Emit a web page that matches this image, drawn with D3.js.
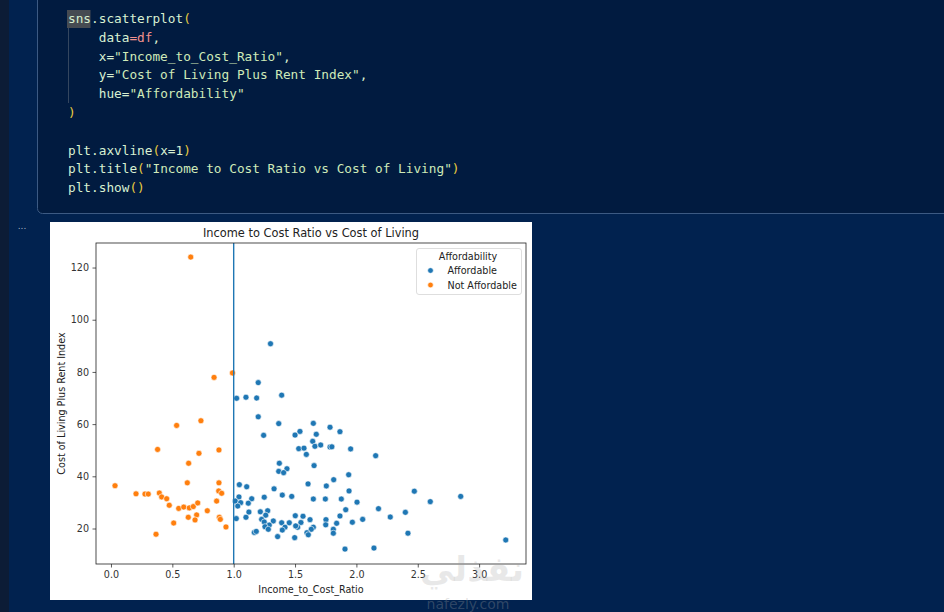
<!DOCTYPE html>
<html>
<head>
<meta charset="utf-8">
<script src="https://cdn.jsdelivr.net/npm/d3@7"></script>
<style>
  body { margin: 0; background: #01224f; overflow: hidden; }
  text { white-space: pre; }
</style>
</head>
<body>
<svg id="page" width="944" height="612"></svg>
<script>
// values
const affordableX = [1.30, 1.20, 1.024, 1.10, 1.187, 1.391, 1.20, 1.367, 1.649, 1.244,
  1.50, 1.54, 1.673, 1.785, 1.866, 1.644, 1.53, 1.573, 1.592, 1.662,
  1.709, 1.785, 1.80, 1.953, 2.157, 1.372, 1.434, 1.367, 1.407, 1.655,
  1.937, 1.815, 1.755, 1.606, 1.046, 1.106, 1.329, 1.940, 1.396, 1.473,
  1.649, 1.747, 1.877, 2.005, 2.18, 1.043, 1.013, 1.057, 1.033, 1.147,
  1.119, 1.249, 1.124, 1.217, 1.277, 1.261, 1.021, 1.100, 1.228, 1.249,
  1.323, 1.290, 1.255, 1.282, 1.168, 1.184, 1.358, 1.391, 1.453, 1.418,
  1.396, 1.502, 1.565, 1.548, 1.521, 1.505, 1.497, 1.622, 1.649, 1.632,
  1.597, 1.608, 1.752, 1.75, 1.812, 1.812, 1.839, 1.866, 1.913, 1.967,
  2.051, 1.907, 2.143, 2.276, 2.399, 2.42, 2.472, 2.602, 2.850, 3.217]
const affordableY = [90.8, 75.9, 69.9, 70.3, 70.0, 71.1, 62.8, 60.2, 60.3, 55.7,
  55.8, 57.2, 56.1, 58.8, 57.1, 53.4, 50.6, 50.8, 48.4, 51.5,
  52.0, 51.2, 51.3, 50.5, 47.9, 45.0, 42.9, 41.9, 41.4, 44.1,
  40.6, 38.7, 36.3, 37.1, 36.8, 36.0, 35.2, 34.4, 32.8, 32.3,
  31.3, 31.3, 31.3, 30.1, 27.6, 32.1, 30.5, 29.9, 28.6, 31.4,
  29.7, 32.0, 26.3, 26.4, 26.8, 25.1, 23.8, 24.3, 23.5, 22.5,
  22.9, 21.3, 20.7, 19.7, 18.5, 18.9, 16.9, 22.2, 22.2, 20.5,
  19.4, 24.9, 24.7, 22.3, 20.5, 21.0, 16.5, 23.4, 20.5, 19.7,
  18.4, 17.6, 23.4, 21.4, 19.7, 18.2, 22.0, 24.8, 27.2, 22.4,
  23.5, 12.1, 12.5, 24.4, 26.2, 18.2, 34.3, 30.3, 32.3, 15.6]
const notAffordableX = [0.65, 0.84, 0.99, 0.535, 0.733, 0.38, 0.717, 0.88, 0.633, 0.622,
  0.88, 0.033, 0.204, 0.277, 0.304, 0.394, 0.413, 0.454, 0.878, 0.902,
  0.861, 0.475, 0.552, 0.593, 0.638, 0.671, 0.707, 0.785, 0.630, 0.698,
  0.685, 0.883, 0.891, 0.511, 0.937, 0.367]
const notAffordableY = [124.0, 77.9, 79.6, 59.5, 61.3, 50.3, 48.8, 50.1, 45.0, 37.5,
  37.5, 36.4, 33.3, 33.2, 33.2, 33.6, 32.1, 31.4, 34.4, 33.5,
  30.5, 28.9, 27.7, 28.2, 27.9, 28.4, 29.8, 26.8, 24.3, 25.2,
  23.3, 24.3, 23.5, 22.1, 20.6, 17.8]
const hueLevels = ["Affordable", "Not Affordable"]
const hueColors = ["#1f77b4", "#ff7f0e"]
const cutoff = 1
const xTicks = [0, 0.5, 1, 1.5, 2, 2.5, 3]
const yTicks = [20, 40, 60, 80, 100, 120]

const svg = d3.select('#page')

// ---- notebook background ----
svg.append('rect').attr('width', 944).attr('height', 612).attr('fill', '#01224f')
svg.append('rect').attr('width', 9).attr('height', 612).attr('fill', '#0c1c36')
svg.append('rect')
    .attr('x', 37.5).attr('y', -10).attr('width', 930).attr('height', 223.5)
    .attr('rx', 5)
    .attr('fill', '#011b40').attr('stroke', '#3c5a83').attr('stroke-width', 1)

// code cell
const mono = "'DejaVu Sans Mono', 'Liberation Mono', monospace"
const codeCol = { id: '#d8f0d2', str: '#cfeab9', br: '#e9cc3f', pk: '#f0908e' }
const codeLines = [
  [['sns', 'id'], ['.scatterplot', 'id'], ['(', 'br']],
  [['    data', 'id'], ['=df', 'pk'], [',', 'id']],
  [['    x=', 'id'], ['"Income_to_Cost_Ratio"', 'str'], [',', 'id']],
  [['    y=', 'id'], ['"Cost of Living Plus Rent Index"', 'str'], [',', 'id']],
  [['    hue=', 'id'], ['"Affordability"', 'str']],
  [[')', 'br']],
  [],
  [['plt.axvline', 'id'], ['(', 'br'], ['x=1', 'id'], [')', 'br']],
  [['plt.title', 'id'], ['(', 'br'], ['"Income to Cost Ratio vs Cost of Living"', 'str'], [')', 'br']],
  [['plt.show', 'id'], ['()', 'br']]
]
svg.append('rect').attr('x', 67).attr('y', 10).attr('width', 23.5).attr('height', 18)
    .attr('fill', '#464b52')
svg.append('line').attr('x1', 68.5).attr('x2', 68.5).attr('y1', 28).attr('y2', 103)
    .attr('stroke', '#34465f').attr('stroke-width', 1)
codeLines.forEach((toks, i) => {
  const t = svg.append('text')
      .attr('x', 68).attr('y', 23 + i * 18.8)
      .attr('font-family', mono).attr('font-size', 12.75)
  toks.forEach(tk => {
    t.append('tspan').attr('fill', codeCol[tk[1]]).text(tk[0])
  })
})
svg.append('text').attr('x', 22).attr('y', 229).attr('text-anchor', 'middle')
    .attr('font-family', 'DejaVu Sans').attr('font-size', 9).attr('fill', '#aab4c4')
    .text('...')

// ---- figure ----
svg.append('rect').attr('x', 50).attr('y', 222).attr('width', 482).attr('height', 378)
    .attr('fill', '#ffffff')

const sans = "'DejaVu Sans', sans-serif"
const axL = 96, axR = 526, axT = 243, axB = 564
const x = d3.scaleLinear().domain([-0.122, 3.382]).range([axL, axR])
const y = d3.scaleLinear().domain([6.4, 129.4]).range([axB, axT])

const chart = svg.append('g')

chart.append('g')
    .attr('transform', `translate(0, ${axB})`)
    .call(d3.axisBottom(x).tickValues(xTicks).tickFormat(d3.format('.1f'))
        .tickSize(3.5).tickPadding(3.5))
    .call(g => g.select('.domain').remove())

chart.append('g')
    .attr('transform', `translate(${axL}, 0)`)
    .call(d3.axisLeft(y).tickValues(yTicks).tickFormat(d3.format('d'))
        .tickSize(3.5).tickPadding(3.5))
    .call(g => g.select('.domain').remove())

chart.selectAll('.tick line').attr('stroke', '#333').attr('stroke-width', 0.8)
chart.selectAll('.tick text').attr('fill', '#333')
    .attr('font-family', sans).attr('font-size', 9.6)

// points
const pts = []
affordableX.forEach((v, i) => pts.push({ x: v, y: affordableY[i], h: 0 }))
notAffordableX.forEach((v, i) => pts.push({ x: v, y: notAffordableY[i], h: 1 }))

chart.append('g').selectAll('circle')
    .data(pts)
    .enter()
    .append('circle')
    .attr('cx', d => x(d.x))
    .attr('cy', d => y(d.y))
    .attr('r', 3)
    .attr('fill', d => hueColors[d.h])
    .attr('stroke', '#fff')
    .attr('stroke-width', 0.6)

// axvline
chart.append('line')
    .attr('x1', x(cutoff)).attr('x2', x(cutoff))
    .attr('y1', axT).attr('y2', axB)
    .attr('stroke', '#1f77b4').attr('stroke-width', 1.4)

// spines
chart.append('rect')
    .attr('x', axL).attr('y', axT).attr('width', axR - axL).attr('height', axB - axT)
    .attr('fill', 'none').attr('stroke', '#222').attr('stroke-width', 0.8)

// title and labels
svg.append('text').attr('x', (axL + axR) / 2).attr('y', 237)
    .attr('text-anchor', 'middle').attr('font-family', sans).attr('font-size', 11.4)
    .attr('fill', '#222').text('Income to Cost Ratio vs Cost of Living')
svg.append('text').attr('x', (axL + axR) / 2).attr('y', 593)
    .attr('text-anchor', 'middle').attr('font-family', sans).attr('font-size', 9.6)
    .attr('fill', '#222').text('Income_to_Cost_Ratio')
svg.append('text')
    .attr('transform', `translate(65, ${(axT + axB) / 2}) rotate(-90)`)
    .attr('text-anchor', 'middle').attr('font-family', sans).attr('font-size', 9.6)
    .attr('fill', '#222').text('Cost of Living Plus Rent Index')

// legend
const legend = svg.append('g')
legend.append('rect')
    .attr('x', 416.5).attr('y', 248.5).attr('width', 105).attr('height', 46).attr('rx', 2.5)
    .attr('fill', '#fff').attr('fill-opacity', 0.8)
    .attr('stroke', '#d6d6d6').attr('stroke-width', 0.8)
legend.append('text').attr('x', 468).attr('y', 260)
    .attr('text-anchor', 'middle').attr('font-family', sans).attr('font-size', 9.6)
    .attr('fill', '#222').text('Affordability')
hueLevels.forEach((lab, i) => {
  legend.append('circle').attr('cx', 430.5).attr('cy', 270.5 + i * 14.5).attr('r', 2.8)
      .attr('fill', hueColors[i]).attr('stroke', '#fff').attr('stroke-width', 0.6)
  legend.append('text').attr('x', 447.5).attr('y', 274 + i * 14.5)
      .attr('font-family', sans).attr('font-size', 9.6).attr('fill', '#222').text(lab)
})

// watermark
svg.append('text').attr('x', 472).attr('y', 581).attr('text-anchor', 'middle')
    .attr('font-family', sans).attr('font-size', 34).attr('font-weight', 'bold')
    .attr('fill', '#9a9a9a').attr('fill-opacity', 0.22).text('نفذلي')
svg.append('text').attr('x', 468).attr('y', 609).attr('text-anchor', 'middle')
    .attr('font-family', sans).attr('font-size', 14)
    .attr('fill', '#a0a0a0').attr('fill-opacity', 0.3).text('nafezly.com')
</script>
</body>
</html>
